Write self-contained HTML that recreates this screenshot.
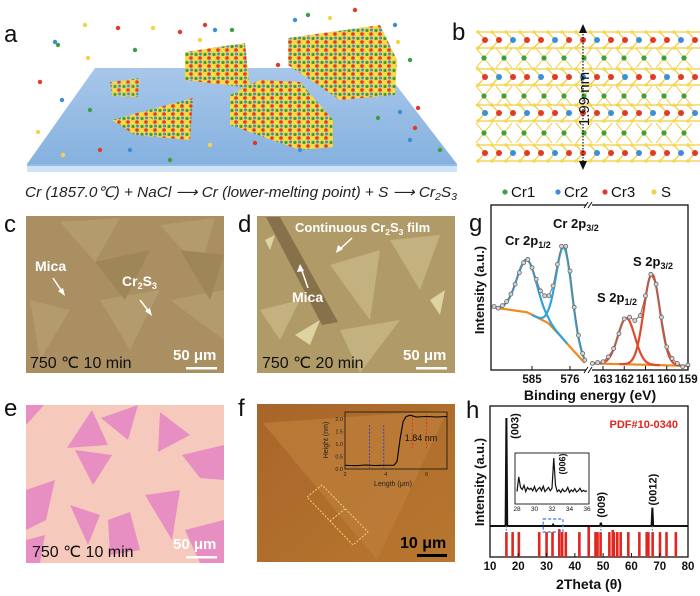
<!DOCTYPE html>
<html><head><meta charset="utf-8">
<style>
html,body{margin:0;padding:0;background:#fff;}
svg{display:block;font-family:"Liberation Sans",sans-serif;}
.lbl{font-size:24px;fill:#111;}
.b{font-weight:bold;}
</style></head>
<body>
<svg id="fig" width="700" height="596" viewBox="0 0 700 596" xmlns="http://www.w3.org/2000/svg">
<defs>
<linearGradient id="plateGrad" x1="0" y1="0" x2="0" y2="1">
<stop offset="0" stop-color="#a7c7ea"/><stop offset="1" stop-color="#86b1df"/>
</linearGradient>
<pattern id="atoms" width="9" height="8" patternUnits="userSpaceOnUse">
<rect width="9" height="8" fill="#f3d34a"/>
<circle cx="2" cy="2" r="1.8" fill="#e03a2a"/>
<circle cx="6.5" cy="2.5" r="1.5" fill="#f6e04a"/>
<circle cx="2.5" cy="6" r="1.5" fill="#3a8fd8"/>
<circle cx="7" cy="6.5" r="1.6" fill="#3aa040"/>
</pattern>
<linearGradient id="fGrad" x1="0" y1="0" x2="1" y2="1">
<stop offset="0" stop-color="#a8652a"/><stop offset="1" stop-color="#b8772f"/>
</linearGradient>
</defs>

<!-- Panel a -->
<g>
<text class="lbl" x="4" y="42">a</text>
<polygon points="95,68 383,68 457,164 27,164" fill="url(#plateGrad)"/>
<polygon points="27,164 457,164 457,172 27,172" fill="#cfe3f6"/>
<line x1="27" y1="165" x2="457" y2="165" stroke="#7fb0e0" stroke-width="1.5"/>
<polygon points="110,82 140,78 138,97 112,96" fill="url(#atoms)" opacity="0.9"/>
<polygon points="112,120 193,98 190,140 135,135" fill="url(#atoms)"/>
<polygon points="185,52 245,43 250,88 185,80" fill="url(#atoms)"/>
<polygon points="230,95 260,80 300,82 333,120 333,147 300,150 230,125" fill="url(#atoms)"/>
<polygon points="288,38 380,25 397,60 395,95 340,100 288,65" fill="url(#atoms)"/>
<g id="freeAtoms"></g>
<text x="25" y="197" font-size="14.5" font-style="italic" fill="#222" textLength="432" lengthAdjust="spacingAndGlyphs">Cr (1857.0℃) + NaCl ⟶ Cr (lower-melting point) + S ⟶ Cr<tspan font-size="10" dy="3">2</tspan><tspan dy="-3">S</tspan><tspan font-size="10" dy="3">3</tspan></text>
</g>

<!-- Panel b -->
<g>
<text class="lbl" x="452" y="40">b</text>
<g id="lattice"></g>
<line x1="583" y1="28" x2="583" y2="166" stroke="#111" stroke-width="1.2" stroke-dasharray="1.5,1.5"/>
<polygon points="583,24 579,33 587,33" fill="#111"/>
<polygon points="583,170 579,161 587,161" fill="#111"/>
<text x="0" y="0" font-size="15" fill="#111" transform="translate(589,99) rotate(-90)" text-anchor="middle">1.99 nm</text>
<g font-size="15" fill="#111">
<circle cx="505" cy="192" r="2.6" fill="#3aa040"/><text x="511" y="197">Cr1</text>
<circle cx="558" cy="192" r="2.6" fill="#3a8fd8"/><text x="564" y="197">Cr2</text>
<circle cx="605" cy="192" r="2.6" fill="#e03a2a"/><text x="611" y="197">Cr3</text>
<circle cx="654" cy="192" r="2.6" fill="#f3d34a"/><text x="661" y="197">S</text>
</g>
</g>

<!-- Panel c -->
<g>
<text class="lbl" x="4" y="232">c</text>
<rect x="26" y="216" width="198" height="157" fill="#a98f61"/>
<g fill="#b39b6d">
<polygon points="60,222 120,218 95,262"/><polygon points="160,225 215,218 200,270"/>
<polygon points="100,300 160,290 130,350"/><polygon points="170,300 224,290 224,340"/>
<polygon points="30,300 70,310 40,360"/>
</g>
<g fill="#9f8657"><polygon points="95,262 150,250 125,300"/><polygon points="180,250 224,255 210,300"/></g>
<text x="35" y="271" font-size="14" font-weight="bold" fill="#fff">Mica</text>
<line x1="53" y1="278" x2="63" y2="293" stroke="#fff" stroke-width="1.5"/><polygon points="65,296 58,291 63,288" fill="#fff"/>
<text x="122" y="286" font-size="14" font-weight="bold" fill="#fff">Cr<tspan font-size="9" dy="3">2</tspan><tspan dy="-3">S</tspan><tspan font-size="9" dy="3">3</tspan></text>
<line x1="140" y1="300" x2="150" y2="313" stroke="#fff" stroke-width="1.5"/><polygon points="152,316 145,311 150,308" fill="#fff"/>
<text x="30" y="368" font-size="16" fill="#111">750 ℃  10 min</text>
<text x="173" y="360" font-size="15" font-weight="bold" fill="#fff">50 μm</text>
<rect x="186" y="367" width="31" height="2.5" fill="#fff"/>
</g>

<!-- Panel d -->
<g>
<text class="lbl" x="238" y="232">d</text>
<rect x="257" y="216" width="198" height="157" fill="#b09a67"/>
<g fill="#c3b17f"><polygon points="330,265 380,250 370,320"/><polygon points="390,240 440,235 420,290"/><polygon points="260,310 300,300 280,340"/><polygon points="340,330 400,320 360,373"/></g>
<g fill="#ddd3a3"><polygon points="295,335 320,320 310,345"/><polygon points="430,300 445,290 440,315"/><polygon points="265,240 275,235 270,250"/></g>
<polygon points="266,217 280,217 338,322 322,325" fill="#7a6340" opacity="0.75"/>
<text x="295" y="232" font-size="13" font-weight="bold" fill="#fff">Continuous Cr<tspan font-size="8.5" dy="3">2</tspan><tspan dy="-3">S</tspan><tspan font-size="8.5" dy="3">3</tspan><tspan dy="-3"> film</tspan></text>
<line x1="352" y1="238" x2="339" y2="250" stroke="#fff" stroke-width="1.5"/><polygon points="336,253 338,245 343,249" fill="#fff"/>
<text x="292" y="302" font-size="14" font-weight="bold" fill="#fff">Mica</text>
<line x1="308" y1="288" x2="301" y2="268" stroke="#fff" stroke-width="1.5"/><polygon points="300,264 297,272 304,271" fill="#fff"/>
<text x="262" y="368" font-size="16" fill="#111">750 ℃  20 min</text>
<text x="403" y="360" font-size="15" font-weight="bold" fill="#fff">50 μm</text>
<rect x="416" y="367" width="31" height="2.5" fill="#fff"/>
</g>

<!-- Panel e -->
<g>
<text class="lbl" x="4" y="416">e</text>
<rect x="26" y="405" width="198" height="158" fill="#f6c9bd"/>
<g fill="#e78fc3">
<polygon points="26,405 44,405 26,425"/>
<polygon points="67,448 92,410 108,445"/>
<polygon points="101,418 138,405 128,440"/>
<polygon points="160,412 190,435 158,452"/>
<polygon points="75,450 112,455 93,485"/>
<polygon points="182,455 224,445 224,480 200,478"/>
<polygon points="26,490 55,480 46,520 26,530"/>
<polygon points="145,495 180,490 172,540"/>
<polygon points="70,505 100,515 88,545"/>
<polygon points="108,520 130,512 140,550 110,555"/>
<polygon points="185,530 224,520 224,563 200,563"/>
<polygon points="26,540 45,535 40,563 26,563"/>
</g>
<text x="32" y="557" font-size="16" fill="#111">750 ℃  10 min</text>
<text x="173" y="549" font-size="15" font-weight="bold" fill="#fff">50 μm</text>
<rect x="186" y="556" width="31" height="2.5" fill="#fff"/>
</g>

<!-- Panel f -->
<g>
<text class="lbl" x="238" y="416">f</text>
<rect x="257" y="404" width="198" height="158" fill="url(#fGrad)"/>
<polygon points="263,423 448,410 377,560" fill="#bd7d3a" opacity="0.8"/>
<polygon points="307,497 322,485 368,532 353,545" fill="none" stroke="#f2d36a" stroke-width="1" stroke-dasharray="2,1.5"/>
<line x1="330" y1="521" x2="345" y2="509" stroke="#f2d36a" stroke-width="1" stroke-dasharray="2,1.5"/>
<g id="afmInset"></g>
<text x="400" y="548" font-size="16" font-weight="bold" fill="#000">10 μm</text>
<rect x="417" y="554" width="30" height="3" fill="#000"/>
</g>

<!-- Panel g -->
<g>
<text class="lbl" x="469" y="231">g</text>
<g id="xps"></g>
</g>

<!-- Panel h -->
<g>
<text class="lbl" x="466" y="418">h</text>
<g id="xrd"></g>
</g>
</svg>

<script>
// ---------- XPS data (panel g) ----------
const xpsLeftE = [594,593,592,591,590,589,588,587,586,585,584,583,582,581,580,579,578,577,576,575,574,573,572.5];
const xpsLeftI = [38.5,37.5,39,41.5,46,52,59,65,67,62,55,48,45,45,51,64,75,75,60,38,21,10,6];
const xpsRightE = [163.5,163.25,163,162.75,162.5,162.25,162,161.75,161.5,161.25,161,160.75,160.5,160.25,160,159.75,159.5,159.25,159];
const xpsRightI = [4,4.5,5,8,13,22,31,32,30,33,45,58,52,32,14,7,4,2,3];
const bgLeftE = [594.5,586.2,581.2,578.4,575.3,572.4];
const bgLeftI = [38,35,28.5,21,12,4];
const bgRightE = [163.5,159];
const bgRightI = [4,2.5];
const crPeakCenter = [586.2,577.4];
const crPeakHeight = [32,56];
const crPeakSigma = [2.4,1.9];
const sPeakCenter = [161.9,160.7];
const sPeakHeight = [28,55];
const sPeakSigma = [0.4,0.38];
const xpsLeftTicks = [585,576];
const xpsRightTicks = [163,162,161,160,159];

// ---------- XRD data (panel h) ----------
const xrdPeakPos = [15.8,32.3,49.2,67.4];
const xrdPeakI = [1.0,0.012,0.03,0.17];
const xrdPeakLabel = ["(003)","","(009)","(0012)"];
const refPos = [15.8,18.0,20.2,27.4,30.0,32.1,34.5,35.5,36.8,41.6,44.9,47.3,48.0,49.1,52.2,53.4,53.8,55.0,56.2,58.9,62.8,65.4,66.0,67.5,70.1,72.4,75.7];
const refH = [0.83,0.83,0.83,0.83,0.83,0.83,0.93,0.83,0.83,0.83,1.0,0.83,0.83,0.83,0.83,0.9,0.83,0.83,0.83,0.83,0.83,0.83,0.83,0.83,0.83,0.83,0.83];
const xrdTicks = [10,20,30,40,50,60,70,80];
const insetT = [28,28.2,28.4,28.6,28.8,29,29.2,29.4,29.6,29.8,30,30.2,30.4,30.6,30.8,31,31.2,31.4,31.6,31.8,32,32.2,32.4,32.6,32.8,33,33.2,33.4,33.6,33.8,34,34.2,34.4,34.6,34.8,35,35.2,35.4,35.6,35.8,36];
const insetI = [0.2,0.55,0.3,0.25,0.35,0.2,0.3,0.25,0.28,0.22,0.32,0.2,0.26,0.3,0.22,0.33,0.2,0.25,0.3,0.22,0.28,1.0,0.35,0.2,0.24,0.18,0.26,0.2,0.22,0.3,0.18,0.24,0.2,0.27,0.19,0.22,0.28,0.2,0.23,0.2,0.22];
const insetTicks = [28,30,32,34,36];

// ---------- AFM profile (panel f inset) ----------
const profileL = [2,2.5,3,3.5,4,4.4,4.55,4.7,4.85,5,5.2,5.5,6,6.5,7];
const profileH = [0.15,0.13,0.16,0.14,0.15,0.15,0.3,1.2,1.9,2.1,2.15,2.08,2.1,2.08,2.1];
const profileTicksY = [0,0.5,1,1.5,2];
const profileTicksX = [2,4,6];

const NS = "http://www.w3.org/2000/svg";
function mk(tag, attrs, parent){
  const e = document.createElementNS(NS, tag);
  for (const k in attrs) e.setAttribute(k, attrs[k]);
  parent.appendChild(e);
  return e;
}
function interp(xs, ys, x){
  for (let i=0;i<xs.length-1;i++){
    const a=xs[i], b=xs[i+1];
    if ((x<=a && x>=b) || (x>=a && x<=b)){ const t=(x-a)/(b-a); return ys[i]+t*(ys[i+1]-ys[i]); }
  }
  return x>xs[0] === xs[0]>xs[xs.length-1] ? ys[0] : ys[ys.length-1];
}
function gauss(E,c,h,s){ return h*Math.exp(-(E-c)*(E-c)/(2*s*s)); }

// ---- decorative atoms (panel a) ----
(function(){
  const g = document.getElementById('freeAtoms');
  const cols = ['#f3d34a','#e03a2a','#3a8fd8','#3aa040'];
  const pts = [[85,25],[118,28],[55,42],[58,45],[153,28],[180,32],[215,30],[232,30],[88,58],[40,82],[62,100],[135,50],[200,40],[278,65],[295,20],[308,15],[330,18],[355,10],[395,25],[410,60],[398,42],[415,128],[400,112],[378,118],[150,120],[100,150],[130,150],[170,160],[210,145],[255,143],[300,150],[90,110],[38,132],[205,25],[410,140],[440,150],[63,155],[418,108]];
  pts.forEach((p,i)=>{
    const c = mk('circle',{cx:p[0],cy:p[1],r:2.2,fill:cols[i%4]},g);
    
    
  });
})();

// ---- lattice (panel b) ----
(function(){
  const g = document.getElementById('lattice');
  const crRows = [40,77,113,153];
  const grRows = [58,96,133];
  for (let x=478; x<=688; x+=14){
    for (let k=0;k<crRows.length;k++){
      const y = crRows[k];
      mk('polyline',{points:`${x},${y-8} ${x+7},${y} ${x},${y+8} ${x+14},${y+8}`,fill:'none',stroke:'#f0cc3a','stroke-width':1.3},g);
      mk('line',{x1:x,y1:y-8,x2:x+14,y2:y-8,stroke:'#f0cc3a','stroke-width':1.2},g);
      const col = ((x/14+k)%3<1) ? '#3a8fd8' : '#e03a2a';
      mk('circle',{cx:x+7,cy:y,r:3,fill:col},g);
      mk('circle',{cx:x,cy:y-8,r:1.8,fill:'#f6d84a'},g);
      mk('circle',{cx:x,cy:y+8,r:1.8,fill:'#f6d84a'},g);
    }
  }
  for (let x=484; x<=688; x+=20){
    for (let k=0;k<grRows.length;k++){
      const y=grRows[k];
      mk('line',{x1:x-8,y1:y-10,x2:x+8,y2:y+10,stroke:'#f0cc3a','stroke-width':1},g);
      mk('line',{x1:x+8,y1:y-10,x2:x-8,y2:y+10,stroke:'#f0cc3a','stroke-width':1},g);
      mk('circle',{cx:x,cy:y,r:2.6,fill:'#3aa040'},g);
    }
  }
})();

// ---- AFM inset (panel f) ----
(function(){
  const g = document.getElementById('afmInset');
  const xs = l => 345 + (l-2)*20.4;
  const ys = h => 469 - h*25;
  const frame = mk('rect',{x:345,y:412,width:102,height:57,fill:'none',stroke:'#111','stroke-width':0.8},g);
  
  
  [3.2,3.9].forEach(v=>{ mk('line',{x1:xs(v),y1:425,x2:xs(v),y2:468,stroke:'#3a3ad0','stroke-width':0.9,'stroke-dasharray':'2,1.5'},g); });
  [5.3,6.0].forEach(v=>{ mk('line',{x1:xs(v),y1:415,x2:xs(v),y2:450,stroke:'#e03030','stroke-width':0.9,'stroke-dasharray':'2,1.5'},g); });
  const pts = profileL.map((l,i)=>xs(l)+','+ys(profileH[i])).join(' ');
  const line = mk('polyline',{points:pts,fill:'none',stroke:'#000','stroke-width':1.1},g);
  
  
  profileTicksY.forEach(v=>{
    const t = mk('text',{x:343,y:ys(v)+2,'font-size':5.5,'text-anchor':'end',fill:'#222'},g);
    t.textContent = v.toFixed(1);
    
    
  });
  profileTicksX.forEach(v=>{
    const t = mk('text',{x:xs(v),y:476,'font-size':5.5,'text-anchor':'middle',fill:'#222'},g);
    t.textContent = v;
    
    
  });
  const xl = mk('text',{x:393,y:486,'font-size':7,'text-anchor':'middle',fill:'#222'},g);
  xl.textContent = 'Length (μm)';
  
  
  const yl = mk('text',{x:0,y:0,'font-size':7,'text-anchor':'middle',fill:'#222',transform:'translate(328,440) rotate(-90)'},g);
  yl.textContent = 'Height (nm)';
  
  
  const v = mk('text',{x:421,y:441,'font-size':9,'text-anchor':'middle',fill:'#111'},g);
  v.textContent = '1.84 nm';
  
  
})();

// ---- XPS chart (panel g) ----
(function(){
  const g = document.getElementById('xps');
  const X0=491, X1=688, Y0=205, Y1=370, BRK=588;
  const xL = E => 532 + (585-E)*4.222;
  const xR = E => 603 + (163-E)*21.25;
  const yG = I => Y1 - I*1.65;
  const fr = mk('rect',{x:X0,y:Y0,width:X1-X0,height:Y1-Y0,fill:'none',stroke:'#111','stroke-width':1.3},g);
  
  
  mk('rect',{x:BRK-2,y:Y0-4,width:6,height:8,fill:'#fff'},g);
  mk('rect',{x:BRK-2,y:Y1-4,width:6,height:8,fill:'#fff'},g);
  [Y0,Y1].forEach(y=>{
    const b1 = mk('path',{d:`M${BRK-4},${y+3} L${BRK},${y-3} M${BRK},${y+3} L${BRK+4},${y-3}`,stroke:'#111','stroke-width':1,fill:'none'},g);
    
    
  });
  function drawCurve(xs, fn, xf, color, name){
    const pts = xs.map(E=>xf(E)+','+yG(fn(E))).join(' ');
    const p = mk('polyline',{points:pts,fill:'none',stroke:color,'stroke-width':2.2},g);
    
    
  }
  const leftSamples=[], rightSamples=[];
  for (let E=bgLeftE[0]; E>=bgLeftE[bgLeftE.length-1]; E-=0.1) leftSamples.push(E);
  for (let E=bgRightE[0]; E>=bgRightE[1]; E-=0.02) rightSamples.push(E);
  drawCurve(leftSamples, E=>interp(bgLeftE,bgLeftI,E), xL, '#ef8a1e', 'background-cr');
  drawCurve(rightSamples, E=>interp(bgRightE,bgRightI,E), xR, '#ef8a1e', 'background-s');
  crPeakCenter.forEach((c,i)=>{
    const xs = leftSamples.filter(E=>Math.abs(E-c)<4*crPeakSigma[i]);
    drawCurve(xs, E=>interp(bgLeftE,bgLeftI,E)+gauss(E,c,crPeakHeight[i],crPeakSigma[i]), xL, '#2ea3dc', 'fit-cr-peak-'+i);
  });
  sPeakCenter.forEach((c,i)=>{
    const xs = rightSamples.filter(E=>Math.abs(E-c)<4*sPeakSigma[i]);
    drawCurve(xs, E=>interp(bgRightE,bgRightI,E)+gauss(E,c,sPeakHeight[i],sPeakSigma[i]), xR, '#e04a2a', 'fit-s-peak-'+i);
  });
  function drawData(Es, Is, xf, name){
    const pts = Es.map((E,i)=>xf(E)+','+yG(Is[i])).join(' ');
    const l = mk('polyline',{points:pts,fill:'none',stroke:'#777','stroke-width':1},g);
    
    
    Es.forEach((E,i)=>{
      const c = mk('circle',{cx:xf(E),cy:yG(Is[i]),r:2,fill:'#d4d4d4',stroke:'#666','stroke-width':0.8},g);
      
      
    });
  }
  drawData(xpsLeftE, xpsLeftI, xL, 'cr-data');
  drawData(xpsRightE, xpsRightI, xR, 'sulfur-data');
  function tick(x, label){
    mk('line',{x1:x,y1:Y1,x2:x,y2:Y1-4,stroke:'#111','stroke-width':1},g);
    const t = mk('text',{x:x,y:Y1+13,'font-size':11.5,'font-weight':'bold','text-anchor':'middle',fill:'#111'},g);
    t.textContent = label;
    
    
  }
  xpsLeftTicks.forEach(E=>tick(xL(E),E));
  xpsRightTicks.forEach(E=>tick(xR(E),E));
  const xt = mk('text',{x:590,y:400,'font-size':14,'font-weight':'bold','text-anchor':'middle',fill:'#111'},g);
  xt.textContent = 'Binding energy (eV)';
  
  
  const yt = mk('text',{x:0,y:0,'font-size':13,'font-weight':'bold','text-anchor':'middle',fill:'#111',transform:'translate(484,290) rotate(-90)'},g);
  yt.textContent = 'Intensity (a.u.)';
  
  
  const labs = [['Cr 2p','1/2',505,245],['Cr 2p','3/2',553,228],['S 2p','1/2',597,302],['S 2p','3/2',633,266]];
  labs.forEach(l=>{
    const t = mk('text',{x:l[2],y:l[3],'font-size':13,'font-weight':'bold',fill:'#111'},g);
    t.textContent = l[0];
    const s = mk('tspan',{'font-size':9,dy:3},t);
    s.textContent = l[1];
    
    
  });
})();

// ---- XRD chart (panel h) ----
(function(){
  const g = document.getElementById('xrd');
  const X0=490, X1=688, Y0=406, Y1=557, YB=526;
  const xH = t => X0 + (t-10)*(X1-X0)/70;
  const yH = I => YB - I*108;
  const fr = mk('rect',{x:X0,y:Y0,width:X1-X0,height:Y1-Y0,fill:'none',stroke:'#111','stroke-width':1.3},g);
  
  
  const refTop = YB+1, refBot = Y1;
  refPos.forEach((p,i)=>{
    const h = refH[i]*(refBot-refTop);
    const r = mk('rect',{x:xH(p)-1.3,y:refBot-h,width:2.6,height:h,fill:'#e0261f'},g);
    
    
  });
  let d = `M${X0},${YB}`;
  xrdPeakPos.forEach((p,i)=>{
    d += ` L${xH(p)-0.8},${YB} L${xH(p)},${yH(xrdPeakI[i])} L${xH(p)+0.8},${YB}`;
  });
  d += ` L${X1},${YB}`;
  const pl = mk('path',{d:d,fill:'none',stroke:'#111','stroke-width':2},g);
  
  
  xrdPeakPos.forEach((p,i)=>{
    if (!xrdPeakLabel[i]) return;
    mk('line',{x1:xH(p),y1:YB,x2:xH(p),y2:YB+7,stroke:'#3a7bd5','stroke-width':1.2,'stroke-dasharray':'1.5,1.5'},g);
    const top = yH(xrdPeakI[i]);
    const ly = i===0 ? 426 : top - 18;
    const t = mk('text',{x:0,y:0,'font-size':11,'font-weight':'bold','text-anchor':'middle',fill:'#111',transform:`translate(${xH(p)+(i===0?12:4)},${ly}) rotate(-90)`},g);
    t.textContent = xrdPeakLabel[i];
    
    
  });
  const box = mk('rect',{x:xH(28.8),y:519,width:xH(35.8)-xH(28.8),height:13,fill:'none',stroke:'#3a7bd5','stroke-width':1.2,'stroke-dasharray':'3,2'},g);
  
  
  const pdf = mk('text',{x:678,y:428,'font-size':11,'font-weight':'bold','text-anchor':'end',fill:'#e0261f'},g);
  pdf.textContent = 'PDF#10-0340';
  
  
  xrdTicks.forEach(t=>{
    mk('line',{x1:xH(t),y1:Y1,x2:xH(t),y2:Y1-4,stroke:'#111','stroke-width':1},g);
    const tx = mk('text',{x:xH(t),y:Y1+13,'font-size':11.5,'font-weight':'bold','text-anchor':'middle',fill:'#111'},g);
    tx.textContent = t;
    
    
  });
  const xt = mk('text',{x:589,y:589,'font-size':14,'font-weight':'bold','text-anchor':'middle',fill:'#111'},g);
  xt.textContent = '2Theta (θ)';
  
  
  const yt = mk('text',{x:0,y:0,'font-size':13,'font-weight':'bold','text-anchor':'middle',fill:'#111',transform:'translate(484,482) rotate(-90)'},g);
  yt.textContent = 'Intensity (a.u.)';
  
  
  const IX0=515, IX1=589, IY0=453, IY1=504;
  const xIn = t => 517 + (t-28)*(587-517)/8;
  const yIn = v => 500 - v*42;
  const ib = mk('rect',{x:IX0,y:IY0,width:IX1-IX0,height:IY1-IY0,fill:'#fff',stroke:'#111','stroke-width':0.9},g);
  
  
  const ip = insetT.map((t,i)=>xIn(t)+','+yIn(insetI[i])).join(' ');
  const il = mk('polyline',{points:ip,fill:'none',stroke:'#111','stroke-width':1.2},g);
  
  
  insetTicks.forEach(t=>{
    const tx = mk('text',{x:xIn(t),y:511,'font-size':6.5,'text-anchor':'middle',fill:'#111'},g);
    tx.textContent = t;
    
    
  });
  const l6 = mk('text',{x:0,y:0,'font-size':9,'font-weight':'bold','text-anchor':'middle',fill:'#111',transform:`translate(${xIn(32.3)+11},464) rotate(-90)`},g);
  l6.textContent = '(006)';
  
  
})();
</script>
</body></html>
